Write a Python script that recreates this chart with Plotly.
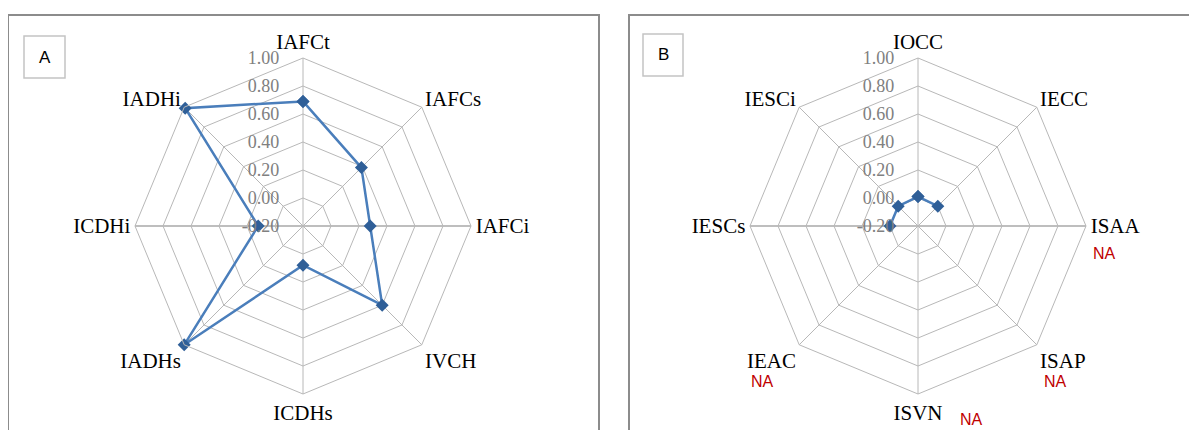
import plotly.graph_objects as go

# page body has an 8px default margin; figure sized so it fills the 1197x430 view
OFF = 8
W, H = 1197 - OFF, 430 - OFF

# Panel A data
cats_a = ["IAFCt", "IAFCs", "IAFCi", "IVCH", "ICDHs", "IADHs", "ICDHi", "IADHi"]
vals_a = [0.69, 0.39, 0.28, 0.60, 0.08, 1.00, 0.12, 0.99]

# Panel B data (None = NA)
cats_b = ["IOCC", "IECC", "ISAA", "ISAP", "ISVN", "IEAC", "IESCs", "IESCi"]
vals_b = [0.01, 0.00, None, None, None, None, 0.00, 0.00]
na_labels_b = ["ISAA", "ISAP", "ISVN", "IEAC"]

radial_ticks = [-0.2, 0.0, 0.2, 0.4, 0.6, 0.8, 1.0]
RMIN, RMAX = -0.2, 1.0

LINE = "#4a7ebb"
MARK = "#2f5f98"
GRID = "#b8b8b8"
AXIS = "#8a8a8a"

CA = (303, 226)
CB = (918, 226)
R = 168


def px_x(x):
    return (x - OFF) / W


def px_y(y):
    return 1 - (y - OFF) / H


def shift(vals):
    # radial axis starts at RMIN; values expressed relative to it
    return [None if v is None else v - RMIN for v in vals]


fig = go.Figure()

ra = shift(vals_a)
fig.add_trace(go.Scatterpolar(
    r=ra + ra[:1], theta=cats_a + cats_a[:1], subplot="polar",
    mode="lines+markers",
    line=dict(color=LINE, width=2.5),
    marker=dict(symbol="diamond", size=10, color=MARK, line=dict(color=MARK, width=0)),
    showlegend=False, hoverinfo="skip"))

rb = shift(vals_b)
fig.add_trace(go.Scatterpolar(
    r=rb + rb[:1], theta=cats_b + cats_b[:1], subplot="polar2",
    mode="lines+markers", connectgaps=False,
    line=dict(color=LINE, width=2.5),
    marker=dict(symbol="diamond", size=10, color=MARK, line=dict(color=MARK, width=0)),
    showlegend=False, hoverinfo="skip"))


def polar_layout(c, cats):
    cx, cy = c
    return dict(
        domain=dict(x=[px_x(cx - R), px_x(cx + R)], y=[px_y(cy + R), px_y(cy - R)]),
        gridshape="linear",
        bgcolor="rgba(0,0,0,0)",
        radialaxis=dict(
            range=[0, RMAX - RMIN],
            tickvals=[t - RMIN for t in radial_ticks],
            ticktext=[f"{t:.2f}" for t in radial_ticks],
            angle=90, tickangle=90, side="counterclockwise",
            showline=False, ticks="outside", ticklen=17, tickcolor="rgba(0,0,0,0)",
            gridcolor=GRID, gridwidth=1,
            tickfont=dict(family="Liberation Serif", size=18, color="#808080"),
        ),
        angularaxis=dict(
            categoryorder="array", categoryarray=cats,
            direction="clockwise", rotation=90,
            showline=True, linecolor=GRID, linewidth=1,
            gridcolor=GRID, gridwidth=1, ticks="",
            tickfont=dict(family="Liberation Serif", size=21, color="#000000"),
        ),
    )


shapes = [
    # panel frames
    dict(type="rect", xref="paper", yref="paper", x0=px_x(8), x1=px_x(599), y0=px_y(445), y1=px_y(15),
         line=dict(color="#8c8c8c", width=2), fillcolor="rgba(0,0,0,0)", layer="below"),
    dict(type="rect", xref="paper", yref="paper", x0=px_x(629), x1=px_x(1215), y0=px_y(445), y1=px_y(15),
         line=dict(color="#8c8c8c", width=2), fillcolor="rgba(0,0,0,0)", layer="below"),
    # label boxes
    dict(type="rect", xref="paper", yref="paper", x0=px_x(24), x1=px_x(65), y0=px_y(78), y1=px_y(36),
         line=dict(color="#c4c4c4", width=1.5), fillcolor="white"),
    dict(type="rect", xref="paper", yref="paper", x0=px_x(643), x1=px_x(683), y0=px_y(76), y1=px_y(34),
         line=dict(color="#c4c4c4", width=1.5), fillcolor="white"),
]
# darker horizontal category axis line across each radar
for cx, cy in (CA, CB):
    shapes.append(dict(type="line", xref="paper", yref="paper",
                       x0=px_x(cx - R), x1=px_x(cx + R), y0=px_y(cy), y1=px_y(cy),
                       line=dict(color=AXIS, width=1.2), layer="below"))

annotations = [
    dict(text="A", x=px_x(44.5), y=px_y(57), xref="paper", yref="paper", showarrow=False,
         xanchor="center", yanchor="middle",
         font=dict(family="Liberation Sans", size=17, color="#000")),
    dict(text="B", x=px_x(663), y=px_y(55), xref="paper", yref="paper", showarrow=False,
         xanchor="center", yanchor="middle",
         font=dict(family="Liberation Sans", size=17, color="#000")),
]

na_pos = {"ISAA": (1104, 253), "ISAP": (1055, 381), "ISVN": (972, 419), "IEAC": (762, 381)}
for lab in na_labels_b:
    x, y = na_pos[lab]
    annotations.append(dict(text="NA", x=px_x(x), y=px_y(y), xref="paper", yref="paper",
                            showarrow=False, xanchor="center", yanchor="middle",
                            font=dict(family="Liberation Sans", size=16, color="#c00000")))

fig.update_layout(
    width=W, height=H, margin=dict(l=0, r=0, t=0, b=0),
    paper_bgcolor="white", plot_bgcolor="white",
    polar=polar_layout(CA, cats_a),
    polar2=polar_layout(CB, cats_b),
    shapes=shapes, annotations=annotations,
)

fig.write_html("out.html")
